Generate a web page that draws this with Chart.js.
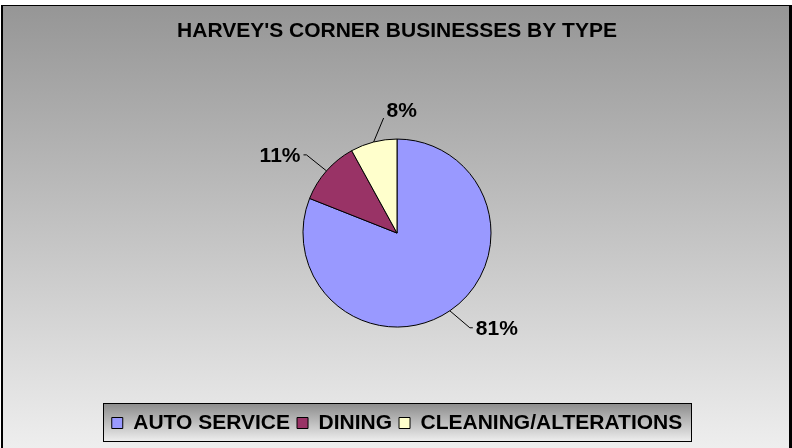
<!DOCTYPE html>
<html>
<head>
<meta charset="utf-8">
<script src="https://cdn.jsdelivr.net/npm/chart.js@4"></script>
<style>
  html, body { margin: 0; padding: 0; background: #fff; }
</style>
</head>
<body>
<canvas id="pieChart" width="792" height="448"></canvas>
<script>
// chart data
const categories = ["AUTO SERVICE", "DINING", "CLEANING/ALTERATIONS"];
const shares = [81, 11, 8];
const sliceColors = ["#9999FF", "#993366", "#FFFFCC"];
const chartTitle = "HARVEY'S CORNER BUSINESSES BY TYPE";

const FONT = "'Liberation Sans', Arial, sans-serif";

// where each percentage label sits, relative to the slice edge
const labelSpots = [
  { dx: 20, dy: 17, side: 1, stub: 3, ty: 1 },
  { dx: -20, dy: -16, side: -1, stub: 3, ty: 1 },
  { dx: 10, dy: -24, side: 1, stub: 0, ty: -7 }
];

// ---------- background + legend frame ----------
const frame = {
  id: 'frame',
  beforeDraw(chart) {
    const ctx = chart.ctx;
    const W = chart.width, H = chart.height;
    ctx.save();
    ctx.fillStyle = '#fff';
    ctx.fillRect(0, 0, W, H);

    let g = ctx.createLinearGradient(0, 6, 0, H);
    g.addColorStop(0, '#969696');
    g.addColorStop(1, '#eeeeee');
    ctx.fillStyle = g;
    ctx.fillRect(2, 5, 788, H - 5);

    ctx.fillStyle = '#000';
    ctx.fillRect(2, 5, 790, 1);   // top
    ctx.fillRect(1, 5, 2, H);     // left
    ctx.fillRect(789, 5, 3, H);   // right (shadow)

    // legend box
    const lg = chart.legend;
    if (lg && lg.lineWidths) {
      const pad = lg.options.labels.padding;
      const start = (lg.left + pad + lg.right - lg.lineWidths[0]) / 2;
      const end = start + lg.lineWidths[0] - pad;
      const mid = lg.top + pad + 10.5;
      const x0 = Math.round(start) - 8.5, x1 = Math.round(end) + 9.5;
      const y0 = Math.round(mid) - 19.5, y1 = Math.round(mid) + 18.5;
      g = ctx.createLinearGradient(0, y0, 0, y1);
      g.addColorStop(0, '#8c8c8c');
      g.addColorStop(1, '#eeeeee');
      ctx.fillStyle = g;
      ctx.fillRect(x0, y0, x1 - x0, y1 - y0);
      ctx.strokeStyle = '#000';
      ctx.lineWidth = 1;
      ctx.strokeRect(x0, y0, x1 - x0, y1 - y0);
    }
    ctx.restore();
  }
};

// ---------- percentage labels with leader lines ----------
const pieLabels = {
  id: 'pieLabels',
  afterDatasetsDraw(chart) {
    const ctx = chart.ctx;
    const meta = chart.getDatasetMeta(0);
    const total = shares.reduce((a, b) => a + b, 0);
    ctx.save();
    ctx.font = "bold 21px " + FONT;
    ctx.fillStyle = '#000';
    ctx.strokeStyle = '#000';
    ctx.lineWidth = 1;
    ctx.textBaseline = 'middle';
    meta.data.forEach((arc, i) => {
      const p = arc.getProps(['x', 'y', 'startAngle', 'endAngle', 'outerRadius'], true);
      const mid = (p.startAngle + p.endAngle) / 2;
      const sx = p.x + Math.cos(mid) * p.outerRadius;
      const sy = p.y + Math.sin(mid) * p.outerRadius;
      const s = labelSpots[i];
      const ex = sx + s.dx, ey = sy + s.dy;
      const hx = ex + s.side * s.stub;
      ctx.beginPath();
      ctx.moveTo(sx, sy);
      ctx.lineTo(ex, ey);
      ctx.lineTo(hx, ey);
      ctx.stroke();
      ctx.textAlign = s.side > 0 ? 'left' : 'right';
      ctx.fillText(Math.round(shares[i] / total * 100) + '%', hx + s.side * 3, ey + s.ty);
    });
    ctx.restore();
  }
};

new Chart(document.getElementById("pieChart"), {
  type: "pie",
  data: {
    labels: categories,
    datasets: [{
      data: shares,
      backgroundColor: sliceColors,
      borderColor: "#000",
      borderWidth: 1,
      radius: 94,
      hoverOffset: 0
    }]
  },
  options: {
    responsive: false,
    animation: false,
    events: [],
    layout: { padding: { top: 6, bottom: 4.5, left: 3, right: 1 } },
    plugins: {
      title: {
        display: true,
        text: chartTitle,
        color: "#000",
        font: { family: FONT, size: 21, weight: "bold" },
        padding: { top: 12.4, bottom: 17 }
      },
      legend: {
        position: "bottom",
        labels: {
          color: "#000",
          boxWidth: 11,
          boxHeight: 11,
          padding: 7,
          font: { family: FONT, size: 21, weight: "bold" }
        }
      },
      tooltip: { enabled: false }
    }
  },
  plugins: [frame, pieLabels]
});
</script>
</body>
</html>
